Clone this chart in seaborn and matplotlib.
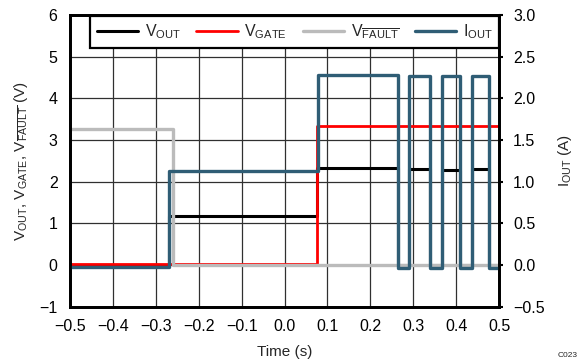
import matplotlib
matplotlib.use('Agg')
import matplotlib.pyplot as plt
import seaborn as sns
import pandas as pd

# step breakpoints (value holds until next time)
t_vout = [-0.5, -0.27, 0.075, 0.265, 0.289, 0.339, 0.366, 0.409, 0.436, 0.477, 0.5]
v_vout = [0.0, 1.19, 2.32, 0.0, 2.30, 0.0, 2.29, 0.0, 2.30, 0.0, 0.0]

t_vgate = [-0.5, 0.075, 0.5]
v_vgate = [0.02, 3.33, 3.33]

t_vfault = [-0.5, -0.261, 0.5]
v_vfault = [3.27, 0.0, 0.0]

t_iout = [-0.5, -0.27, 0.078, 0.265, 0.289, 0.339, 0.366, 0.409, 0.436, 0.477, 0.5]
i_iout = [-0.02, 1.13, 2.28, -0.03, 2.27, -0.03, 2.27, -0.03, 2.27, -0.03, -0.03]

x_ticks = [-0.5, -0.4, -0.3, -0.2, -0.1, 0.0, 0.1, 0.2, 0.3, 0.4, 0.5]
y_ticks = [-1, 0, 1, 2, 3, 4, 5, 6]
y2_ticks = [-0.5, 0.0, 0.5, 1.0, 1.5, 2.0, 2.5, 3.0]

sns.set_style('white')
plt.rcParams['font.family'] = ['Liberation Sans', 'DejaVu Sans']
plt.rcParams['mathtext.fontset'] = 'custom'
plt.rcParams['mathtext.rm'] = 'Liberation Sans'
plt.rcParams['mathtext.it'] = 'Liberation Sans:italic'
plt.rcParams['mathtext.bf'] = 'Liberation Sans:bold'

fig = plt.figure(figsize=(5.79, 3.64), dpi=100)
ax = fig.add_axes([0.121, 0.157, 0.741, 0.802])
ax2 = ax.twinx()

lab_vout = r'V$_{\mathrm{OUT}}$'
lab_vgate = r'V$_{\mathrm{GATE}}$'
lab_vfault = r'V$_{\overline{\mathrm{FAULT}}}$'
lab_iout = r'I$_{\mathrm{OUT}}$'

sns.lineplot(x=t_vout, y=v_vout, ax=ax, color='black', lw=2.2,
             drawstyle='steps-post', estimator=None, label=lab_vout, legend=False)
sns.lineplot(x=t_vgate, y=v_vgate, ax=ax, color='#ff0000', lw=2.0,
             drawstyle='steps-post', estimator=None, label=lab_vgate, legend=False)
sns.lineplot(x=t_vfault, y=v_vfault, ax=ax, color='#bbbbbb', lw=2.4,
             drawstyle='steps-post', estimator=None, label=lab_vfault, legend=False)
sns.lineplot(x=t_iout, y=i_iout, ax=ax2, color='#2f5d75', lw=2.4,
             drawstyle='steps-post', estimator=None, label=lab_iout, legend=False)

ax.set_xlim(-0.5, 0.5)
ax.set_ylim(-1, 6)
ax2.set_ylim(-0.5, 3.0)
ax.set_xticks(x_ticks)
ax.set_xticklabels([f'{v:.1f}'.replace('-', '\u2212') for v in x_ticks])
ax.set_yticks(y_ticks)
ax.set_yticklabels([str(v).replace('-', '\u2212') for v in y_ticks])
ax2.set_yticks(y2_ticks)
ax2.set_yticklabels([f'{v:.1f}'.replace('-', '\u2212') for v in y2_ticks])

ax.grid(True, color='#303030', lw=0.9)
ax.set_axisbelow(True)
for a in (ax, ax2):
    for s in a.spines.values():
        s.set_visible(True)
        s.set_color('black')
        s.set_linewidth(2)
ax.tick_params(axis='both', length=0, pad=9, labelsize=11.5, colors='black')
ax2.tick_params(axis='y', length=3, width=1.5, direction='out', pad=7,
                labelsize=11.5, colors='black')

ax.set_xlabel('Time (s)', fontsize=11, labelpad=8)
ax.set_ylabel(lab_vout + ', ' + lab_vgate + ', ' + lab_vfault + ' (V)', fontsize=11, labelpad=7)
ax2.set_ylabel(lab_iout + ' (A)', fontsize=11, rotation=90, labelpad=8)

h1, l1 = ax.get_legend_handles_labels()
h2, l2 = ax2.get_legend_handles_labels()
leg = ax2.legend(h1 + h2, l1 + l2, loc='lower left', ncol=4, mode='expand',
                 bbox_to_anchor=(0.047, 0.888, 0.953, 0.112), borderaxespad=0,
                 fancybox=False, framealpha=1, edgecolor='black', fontsize=11.5,
                 handlelength=2.6, handletextpad=0.4, columnspacing=1.0)
leg.get_frame().set_linewidth(1.6)

fig.text(0.998, 0.022, 'C023', fontsize=6, ha='right', va='center')

fig.savefig('out.png', dpi=100)
